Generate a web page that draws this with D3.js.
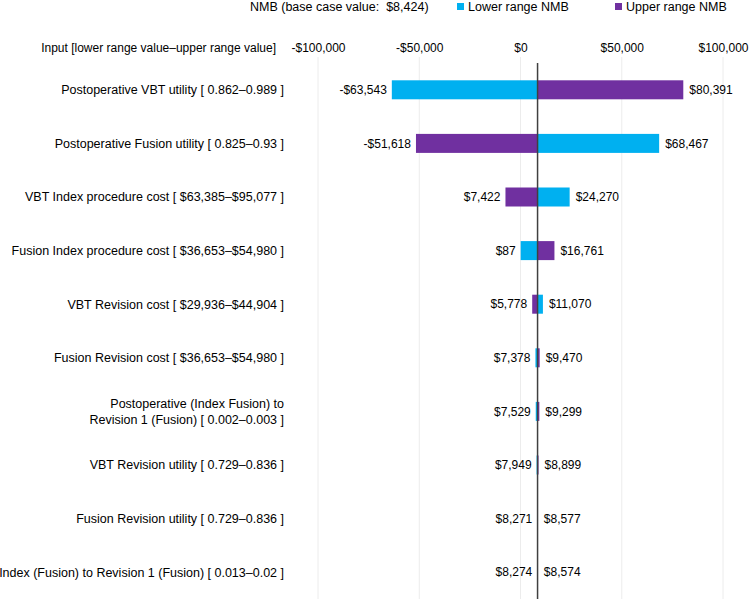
<!DOCTYPE html>
<html><head><meta charset="utf-8">
<script src="https://cdn.jsdelivr.net/npm/d3@7"></script>
<style>body{margin:0;background:#fff;} svg{display:block;font-family:"Liberation Sans",Arial,sans-serif;}</style>
</head><body>
<svg id="c" width="749" height="599"></svg>
<script>
const baseValue = 8424;
const categories = [
  ["Postoperative VBT utility [ 0.862–0.989 ]"],
  ["Postoperative Fusion utility [ 0.825–0.93 ]"],
  ["VBT Index procedure cost [ $63,385–$95,077 ]"],
  ["Fusion Index procedure cost [ $36,653–$54,980 ]"],
  ["VBT Revision cost [ $29,936–$44,904 ]"],
  ["Fusion Revision cost [ $36,653–$54,980 ]"],
  ["Postoperative (Index Fusion) to", "Revision 1 (Fusion) [ 0.002–0.003 ]"],
  ["VBT Revision utility [ 0.729–0.836 ]"],
  ["Fusion Revision utility [ 0.729–0.836 ]"],
  ["Index (Fusion) to Revision 1 (Fusion) [ 0.013–0.02 ]"]
];
// bar end values as drawn in the picture
const lowerNMB = [-63543, 68467, 24270, 87, 11070, 7378, 7529, 7949, 8577, 8274];
const upperNMB = [80391, -51618, -7422, 16761, 5778, 9470, 9299, 8899, 8271, 8574];
// value labels as printed in the picture
const leftLabels  = ["-$63,543", "-$51,618", "$7,422", "$87", "$5,778", "$7,378", "$7,529", "$7,949", "$8,271", "$8,274"];
const rightLabels = ["$80,391", "$68,467", "$24,270", "$16,761", "$11,070", "$9,470", "$9,299", "$8,899", "$8,577", "$8,574"];
const tickValues = [-100000, -50000, 0, 50000, 100000];
const lowerColor = "#00B0F0", upperColor = "#7030A0";

const fmt = v => (v < 0 ? "-" : "") + "$" + d3.format(",")(Math.abs(v));
const svg = d3.select("#c");
const x = d3.scaleLinear().domain([-100000, 100000]).range([318, 723]);
const y = d3.scaleBand().domain(d3.range(categories.length)).range([63, 599]);
const rowC = i => y(i) + y.bandwidth() / 2;
const barH = 19;

// gridlines
svg.append("g").selectAll("line").data(tickValues).join("line")
  .attr("x1", d => x(d)).attr("x2", d => x(d)).attr("y1", 57).attr("y2", 599)
  .attr("stroke", "#ececec").attr("stroke-width", 1);

// top axis labels
const ax = svg.append("g").attr("transform", "translate(0,57)")
  .call(d3.axisTop(x).tickValues(tickValues).tickFormat(fmt).tickSize(0).tickPadding(5));
ax.select(".domain").remove();
ax.selectAll("text").attr("font-size", 12).attr("fill", "#000").attr("font-family", "Liberation Sans, Arial, sans-serif");

// header
svg.append("text").attr("x", 276).attr("y", 52).attr("text-anchor", "end")
  .attr("font-size", 12)
  .text("Input [lower range value–upper range value]");

// legend
svg.append("text").attr("x", 250).attr("y", 11).attr("font-size", 12.5).attr("xml:space","preserve").text("NMB (base case value:  $8,424)");
svg.append("rect").attr("x", 457).attr("y", 3).attr("width", 7).attr("height", 7).attr("fill", lowerColor);
svg.append("text").attr("x", 468).attr("y", 11).attr("font-size", 12.5).text("Lower range NMB");
svg.append("rect").attr("x", 615).attr("y", 3).attr("width", 7).attr("height", 7).attr("fill", upperColor);
svg.append("text").attr("x", 626).attr("y", 11).attr("font-size", 12.5).text("Upper range NMB");

const rows = categories.map((c, i) => ({ i, label: c, lo: lowerNMB[i], hi: upperNMB[i] }));

// bars
const g = svg.append("g");
rows.forEach(r => {
  [[r.lo, lowerColor], [r.hi, upperColor]].forEach(([v, col]) => {
    g.append("rect")
      .attr("x", Math.min(x(v), x(baseValue)))
      .attr("width", Math.abs(x(v) - x(baseValue)))
      .attr("y", rowC(r.i) - barH / 2).attr("height", barH)
      .attr("fill", col);
  });
  const mn = Math.min(r.lo, r.hi), mx = Math.max(r.lo, r.hi);
  g.append("text").attr("x", x(mn) - 5).attr("y", rowC(r.i)).attr("dy", "0.35em")
    .attr("text-anchor", "end").attr("font-size", 12).text(leftLabels[r.i]);
  g.append("text").attr("x", x(mx) + 6).attr("y", rowC(r.i)).attr("dy", "0.35em")
    .attr("text-anchor", "start").attr("font-size", 12).text(rightLabels[r.i]);
  const t = g.append("text").attr("text-anchor", "end").attr("font-size", 12.5);
  const n = r.label.length;
  r.label.forEach((s, k) => {
    t.append("tspan").attr("x", 284).attr("y", rowC(r.i) + (k - (n - 1) / 2) * 16).attr("dy", "0.35em").text(s);
  });
});

// base line
svg.append("line").attr("x1", x(baseValue)).attr("x2", x(baseValue)).attr("y1", 63).attr("y2", 599)
  .attr("stroke", "#404040").attr("stroke-width", 1.5);
</script>
</body></html>
